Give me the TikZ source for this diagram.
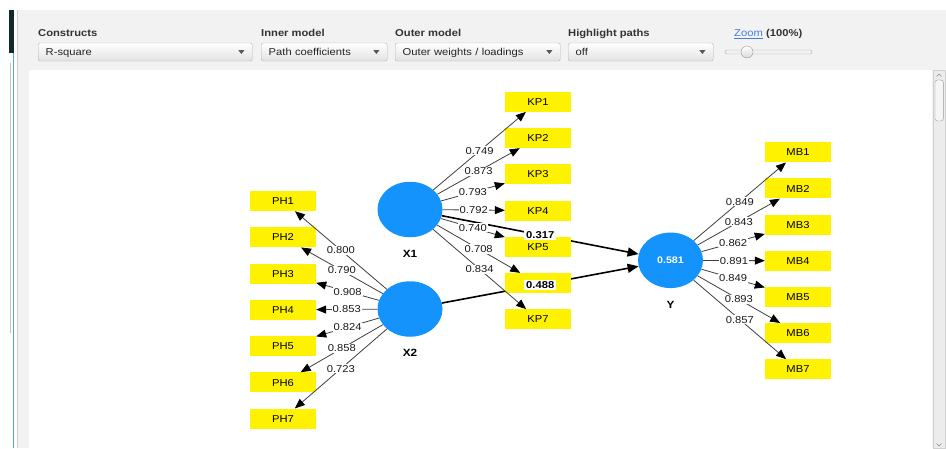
\documentclass[tikz,border=0pt]{standalone}
\usepackage{fontspec}
\setmainfont{Liberation Sans}[FakeStretch=1.12]
\usetikzlibrary{arrows.meta, positioning, shapes.geometric}

\definecolor{latentblue}{RGB}{20,147,252}
\definecolor{panelgray}{RGB}{242,242,242}
\definecolor{ddborder}{RGB}{178,178,178}
\definecolor{ddshade}{RGB}{226,226,226}
\definecolor{darkteal}{RGB}{14,42,42}
\definecolor{tealline}{RGB}{80,165,215}
\definecolor{linkblue}{RGB}{70,125,225}
\definecolor{scrolltrack}{RGB}{236,236,236}

\begin{document}
\begin{tikzpicture}[
    x=1pt, y=-1pt,
    font=\fontsize{10}{12}\selectfont,
    latentvar/.style = {ellipse, fill=latentblue, minimum width=65pt, minimum height=55.5pt, inner sep=0pt},
    latentname/.style = {inner sep=0pt, text height=7.6pt, text depth=0pt, font=\fontsize{10.5}{12}\selectfont\bfseries},
    indicator/.style = {fill=yellow, minimum width=66pt, minimum height=20pt, inner sep=0pt, text height=7.3pt, text depth=0pt},
    loading/.style = {draw=black!75, line width=0.8pt, -{Triangle[length=10pt, width=8pt, color=black]}},
    pathline/.style = {draw=black, line width=1.6pt, -{Triangle[length=11pt, width=9pt]}},
    weight/.style = {fill=white, inner sep=1pt, text=black!90},
    coef/.style = {fill=white, inner xsep=2pt, inner ysep=1.5pt, font=\fontsize{10}{12}\selectfont\bfseries},
    fieldlabel/.style = {anchor=base west, inner sep=0pt, text=black!80, font=\fontsize{10}{12}\selectfont\bfseries},
    dropdown/.style = {draw=ddborder, rounded corners=2pt, top color=white, bottom color=ddshade, anchor=west,
                       minimum height=18pt, inner xsep=7.5pt, inner ysep=0pt, text width=#1, align=left,
                       text height=7.3pt, text depth=0pt, text=black!85}
  ]

  \useasboundingbox (0,0) rectangle (946,448);

  % Window frame and panels
  \fill[white] (0,0) rectangle (946,448);
  \fill[panelgray] (17,10) rectangle (946,448);
  \draw[black!20] (17,10) -- (17,448);
  \fill[darkteal] (9,10) rectangle (14,53);
  \draw[tealline, line width=1pt] (13.5,53) -- (13.5,448);
  \draw[black!25] (10.5,63) -- (10.5,333);
  \fill[white] (29,70) rectangle (932,448);

  % Scrollbar
  \draw[fill=scrolltrack, draw=black!18] (933,70.5) rectangle (945.5,448);
  \draw[fill=black!4, draw=black!40, rounded corners=2.5pt] (935,80) rectangle (943.3,121);
  \draw[black!45, line width=0.6pt] (936.5,76.5) -- (939,74) -- (941.5,76.5);
  \draw[black!45, line width=0.6pt] (936.5,443.5) -- (939,446) -- (941.5,443.5);

  % Toolbar
  \node[fieldlabel] (constructslbl) at (38,36.8) {Constructs};
  \node[fieldlabel] (innerlbl) at (261,36.8) {Inner model};
  \node[fieldlabel] (outerlbl) at (395,36.8) {Outer model};
  \node[fieldlabel] (highlightlbl) at (568,36.8) {Highlight paths};
  \node[dropdown=199pt] (constructs) at (38,52) {R-square};
  \node[dropdown=111pt] (inner) at (261,52) {Path coefficients};
  \node[dropdown=150pt] (outer) at (395,52) {Outer weights / loadings};
  \node[dropdown=130pt] (highlight) at (568,52) {off};
  \foreach \dd in {constructs, inner, outer, highlight}
    \fill[black!65] (\dd.east) ++(-14,-1.8) -- ++(6,0) -- ++(-3,3.8) -- cycle;

  \node[anchor=base west, inner sep=0pt, text=linkblue] (zoomlink) at (734,36.8) {\underline{Zoom}};
  \node[fieldlabel] (zoompct) at ([xshift=3pt]zoomlink.base east) {(100\%)};
  \draw[draw=black!30, fill=black!6, rounded corners=2pt] (725,50) rectangle (812,54);
  \node[circle, draw=black!40, top color=white, bottom color=black!15, minimum size=12pt, inner sep=0pt] (knob) at (747,52) {};

  % Constructs
  \node[latentvar] (x1) at (410,209.5) {};
  \node[latentvar] (x2) at (410,309) {};
  \node[latentvar, text=white, font=\fontsize{9.5}{11}\selectfont\bfseries] (y) at (670.5,260.3) {0.581};
  \node[latentname, below=12pt of x1] (x1name) {X1};
  \node[latentname, below=12pt of x2] (x2name) {X2};
  \node[latentname, below=12pt of y] (yname) {Y};

  % Inner model (drawn before the indicators, which cover it)
  \draw[pathline] (x1) -- coordinate (c1) (y);
  \draw[pathline] (x2) -- coordinate (c2) (y);

  % Indicators
  \foreach \i in {1,...,7}
    \node[indicator] (ph\i) at (283, 164.7+36.28*\i) {PH\i};
  \foreach \i/\kpname in {1/KP1, 2/KP2, 3/KP3, 4/KP4, 5/KP5, 6/{}, 7/KP7}
    \node[indicator] (kp\i) at (538, 65.43+36.27*\i) {\kpname};
  \foreach \i in {1,...,7}
    \node[indicator] (mb\i) at (798, 116.13+36.17*\i) {MB\i};

  % Outer loadings
  \foreach \i/\w in {1/0.800, 2/0.790, 3/0.908, 4/0.853, 5/0.824, 6/0.858, 7/0.723}
    \draw[loading] (x2) -- node[weight] {\w} (ph\i);
  \foreach \i/\w in {1/0.749, 2/0.873, 3/0.793, 4/0.792, 5/0.740, 6/0.708, 7/0.834}
    \draw[loading] (x1) -- node[weight] {\w} (kp\i);
  \foreach \i/\w in {1/0.849, 2/0.843, 3/0.862, 4/0.891, 5/0.849, 6/0.893, 7/0.857}
    \draw[loading] (y) -- node[weight] {\w} (mb\i);

  % Path coefficients
  \node[coef] (coef1) at (c1) {0.317};
  \node[coef] (coef2) at (c2) {0.488};

\end{tikzpicture}
\end{document}
